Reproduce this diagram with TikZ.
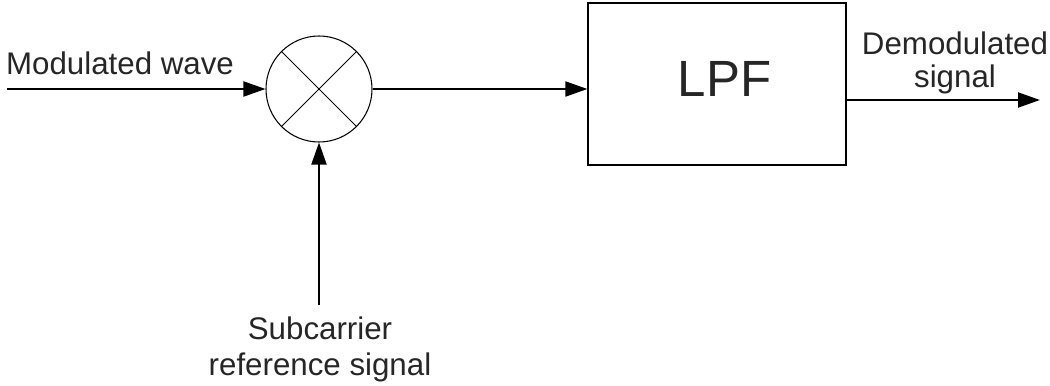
\documentclass[tikz,border=0pt]{standalone}
\usepackage{fontspec}
\setmainfont{Liberation Sans}
\usetikzlibrary{arrows.meta,positioning}
\tikzset{
  base/.style={font=\fontsize{17.8}{19}\selectfont, align=center, inner sep=2pt, text=black!85},
  block/.style={base, rectangle, draw=black, line width=0.7pt, minimum width=5.16cm, minimum height=3.24cm, font=\fontsize{29}{32}\selectfont},
  mixer/.style={circle, draw=black, line width=0.6pt, minimum size=2.12cm, inner sep=0pt},
  cross/.style={line width=0.6pt, draw=black},
  arr/.style={-{Triangle[length=4.4mm,width=3mm]}, line width=1.1pt, draw=black},
  lbl/.style={base},
}
\begin{document}
\begin{tikzpicture}
  \useasboundingbox (0,0) rectangle (21,7.7);
  \node[mixer] (mix) at (6.38,5.92) {};
  \draw[cross] (mix.45) -- (mix.225);
  \draw[cross] (mix.135) -- (mix.-45);
  \node[block] (lpf) at (14.34,6.02) {\hspace{0.3cm}\raisebox{0.2cm}{LPF}};
  \coordinate (in) at (0.14,5.92);
  \coordinate (sub) at (6.38,1.6);
  \coordinate (out) at (20.8,5.70);
  \coordinate (lpfout) at (16.92,5.70);
  \draw[arr] (in) -- (mix.west);
  \draw[arr] (mix.east) -- (mix.east -| lpf.west);
  \draw[arr] (sub) -- (mix.south);
  \draw[arr] (lpfout) -- (out);
  \node[lbl, anchor=center] (modlbl) at (2.4,6.44) {Modulated wave};
  \node[lbl] (demodlbl) at (19.1,6.44) {Demodulated\\signal};
  \node[lbl, font=\fontsize{17.8}{20.5}\selectfont] (sublbl) at (6.4,0.72) {Subcarrier\\reference signal};
\end{tikzpicture}
\end{document}
